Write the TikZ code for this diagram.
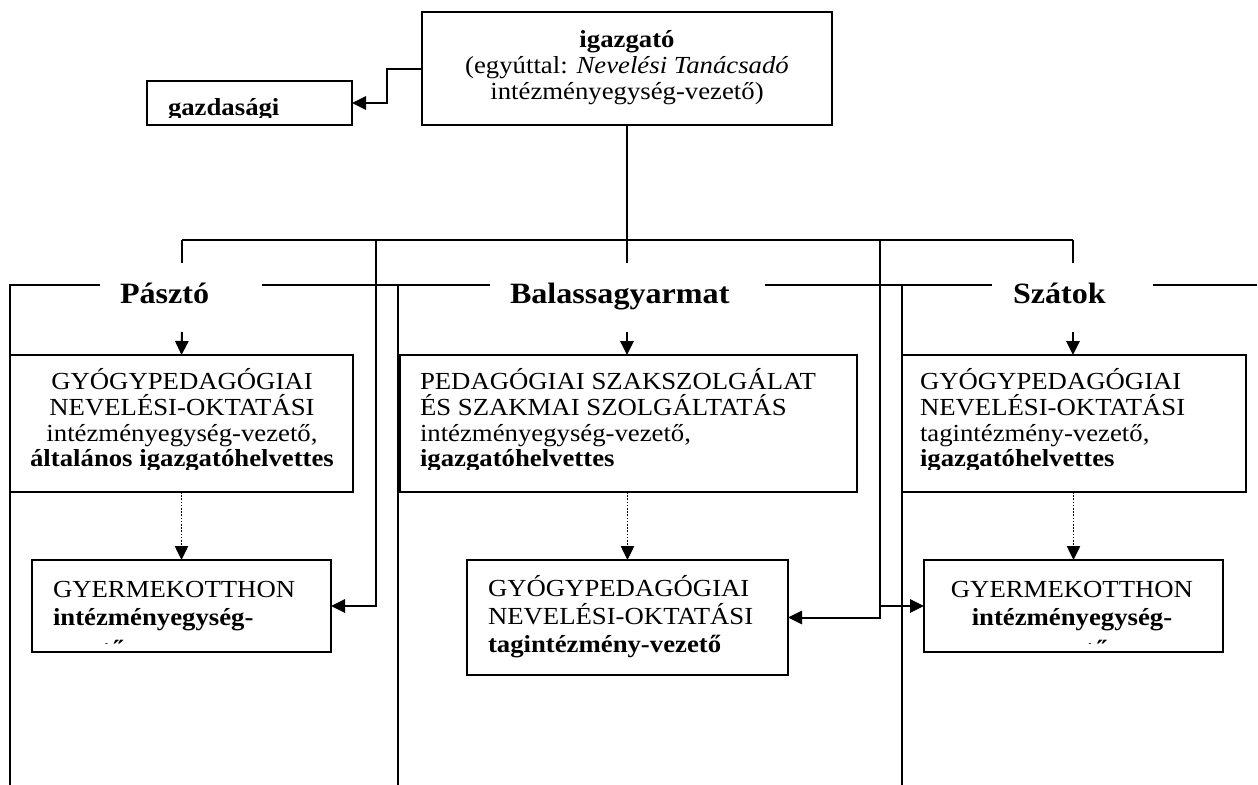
\documentclass[tikz,border=0pt]{standalone}
\usepackage{fontspec}
\setmainfont{Liberation Serif}[FakeStretch=1.09]
\usetikzlibrary{arrows.meta}
\begin{document}
\begin{tikzpicture}[x=0.75pt,y=-0.75pt,
  boxst/.style={draw, line width=1.5pt, inner sep=0pt, outer sep=0pt, anchor=north west},
  txt/.style={inner sep=0pt, outer sep=0pt, font=\fontsize{18.4}{19}\selectfont},
  btxt/.style={inner sep=0pt, outer sep=0pt, font=\fontsize{18.4}{19}\selectfont\bfseries},
  lbl/.style={inner sep=0pt, outer sep=0pt, anchor=base west, font=\fontsize{22.1}{24}\selectfont\bfseries},
  ln/.style={line width=1.5pt},
  arr/.style={line width=1.5pt, -{Triangle[length=10.5pt,width=10pt]}},
  darr/.style={line width=1pt, dash pattern=on 1.2pt off 1.2pt, -{Triangle[length=10.5pt,width=10pt]}}]
\fill[white] (0,0) rectangle (1258,785);
\useasboundingbox (0,0) rectangle (1258,785);

% boxes
\node[boxst, minimum width=410*0.75pt, minimum height=113*0.75pt] (igaz) at (422,12) {};
\node[boxst, minimum width=205*0.75pt, minimum height=44*0.75pt] (gazd) at (147,81) {};
\node[boxst, minimum width=343*0.75pt, minimum height=137*0.75pt] (pbox) at (10,355) {};
\node[boxst, minimum width=299*0.75pt, minimum height=92*0.75pt] (pgy) at (32,560) {};
\node[boxst, minimum width=457*0.75pt, minimum height=137*0.75pt] (bbox) at (400,355) {};
\node[boxst, minimum width=321*0.75pt, minimum height=115*0.75pt] (btag) at (467,560) {};
\node[boxst, minimum width=344*0.75pt, minimum height=137*0.75pt] (sbox) at (902,355) {};
\node[boxst, minimum width=299*0.75pt, minimum height=92*0.75pt] (sgy) at (924,560) {};

% igazgato text
\node[btxt, anchor=base] (igazA) at (627,47) {igazgató};
\node[txt, anchor=base] (igazB) at (627,73) {(egyúttal: \textit{Nevelési Tanácsadó}};
\node[txt, anchor=base] (igazC) at (627,99) {intézményegység-vezető)};

% gazdasagi text (clipped)
\begin{scope}
\clip (147,81) rectangle (352,117);
\node[btxt, anchor=base west] (gazdT) at (168,115) {gazdasági};
\end{scope}

% Pasztó main box text
\begin{scope}
\clip (10,355) rectangle (353,469);
\node[txt, anchor=base] (pA) at (182,389) {GYÓGYPEDAGÓGIAI};
\node[txt, anchor=base] (pB) at (182,415) {NEVELÉSI-OKTATÁSI};
\node[txt, anchor=base] (pC) at (182,441) {intézményegység-vezető,};
\node[btxt, anchor=base] (pD) at (182,466) {általános igazgatóhelvettes};
\end{scope}

% Balassagyarmat main box text
\begin{scope}
\clip (400,355) rectangle (857,469);
\node[txt, anchor=base west] (bA) at (420,389) {PEDAGÓGIAI SZAKSZOLGÁLAT};
\node[txt, anchor=base west] (bB) at (420,415) {ÉS SZAKMAI SZOLGÁLTATÁS};
\node[txt, anchor=base west] (bC) at (420,441) {intézményegység-vezető,};
\node[btxt, anchor=base west] (bD) at (420,466) {igazgatóhelvettes};
\end{scope}

% Szatok main box text
\begin{scope}
\clip (902,355) rectangle (1246,469);
\node[txt, anchor=base west] (sA) at (920,389) {GYÓGYPEDAGÓGIAI};
\node[txt, anchor=base west] (sB) at (920,415) {NEVELÉSI-OKTATÁSI};
\node[txt, anchor=base west] (sC) at (920,441) {tagintézmény-vezető,};
\node[btxt, anchor=base west] (sD) at (920,466) {igazgatóhelvettes};
\end{scope}

% Pasztó gyermekotthon
\begin{scope}
\clip (32,560) rectangle (331,643);
\node[txt, anchor=base west] (pgA) at (53,597) {GYERMEKOTTHON};
\node[btxt, anchor=base west] (pgB) at (53,625) {intézményegység-};
\node[btxt, anchor=base west] (pgC) at (53,657) {vezető};
\end{scope}

% Szatok gyermekotthon
\begin{scope}
\clip (924,560) rectangle (1223,643);
\node[txt, anchor=base] (sgA) at (1072,597) {GYERMEKOTTHON};
\node[btxt, anchor=base] (sgB) at (1072,625) {intézményegység-};
\node[btxt, anchor=base] (sgC) at (1072,657) {vezető};
\end{scope}

% Balassagyarmat tagintezmeny
\node[txt, anchor=base west] (btA) at (488,596) {GYÓGYPEDAGÓGIAI};
\node[txt, anchor=base west] (btB) at (488,624) {NEVELÉSI-OKTATÁSI};
\node[btxt, anchor=base west] (btC) at (488,652) {tagintézmény-vezető};

% section labels
\node[lbl] (plbl) at (120,303) {Pásztó};
\node[lbl] (blbl) at (510,303) {Balassagyarmat};
\node[lbl] (slbl) at (1013,303) {Szátok};

% section frame lines
\draw[ln] (10,785) -- (10,285) -- (100,285);
\draw[ln] (262,285) -- (490,285);
\draw[ln] (398,785) -- (398,285);
\draw[ln] (765,285) -- (992,285);
\draw[ln] (902,785) -- (902,285);
\draw[ln] (1153,285) -- (1257,285);

% coordinates
\coordinate (busM) at (627,240);
\coordinate (busL) at (182,240);
\coordinate (busR) at (1073,240);
\coordinate (pdrop) at (182,263);
\coordinate (bdrop) at (627,263);
\coordinate (sdrop) at (1073,263);
\coordinate (v376) at (376,240);
\coordinate (v880) at (880,240);
\coordinate (pa) at (182,332);
\coordinate (ba) at (627,332);
\coordinate (sa) at (1073,332);

% igazgato -> gazdasagi
\draw[arr] (igaz.west) -- ++(-35,0) |- (gazd.east);
% main trunk and bus
\draw[line width=2.2pt] (igaz.south) -- (busM);
\draw[ln] (busL) -- (busR);
\draw[ln] (busL) -- (pdrop);
\draw[ln] (busM) -- (bdrop);
\draw[ln] (busR) -- (sdrop);
% label arrows
\draw[arr] (pa) -- (pbox.north);
\draw[arr] (ba) -- (ba |- bbox.north);
\draw[arr] (sa) -- (sa |- sbox.north);
% dotted arrows
\draw[darr] (pgy.north |- pbox.south) -- (pgy.north);
\draw[darr] (btag.north |- bbox.south) -- (btag.north);
\draw[darr] (sgy.north |- sbox.south) -- (sgy.north);
% side connectors
\draw[arr] (v376) |- (pgy.east);
\draw[arr] (v880) |- (btag.east);
\draw[arr] (sgy.west -| v880) -- (sgy.west);
\end{tikzpicture}
\end{document}
